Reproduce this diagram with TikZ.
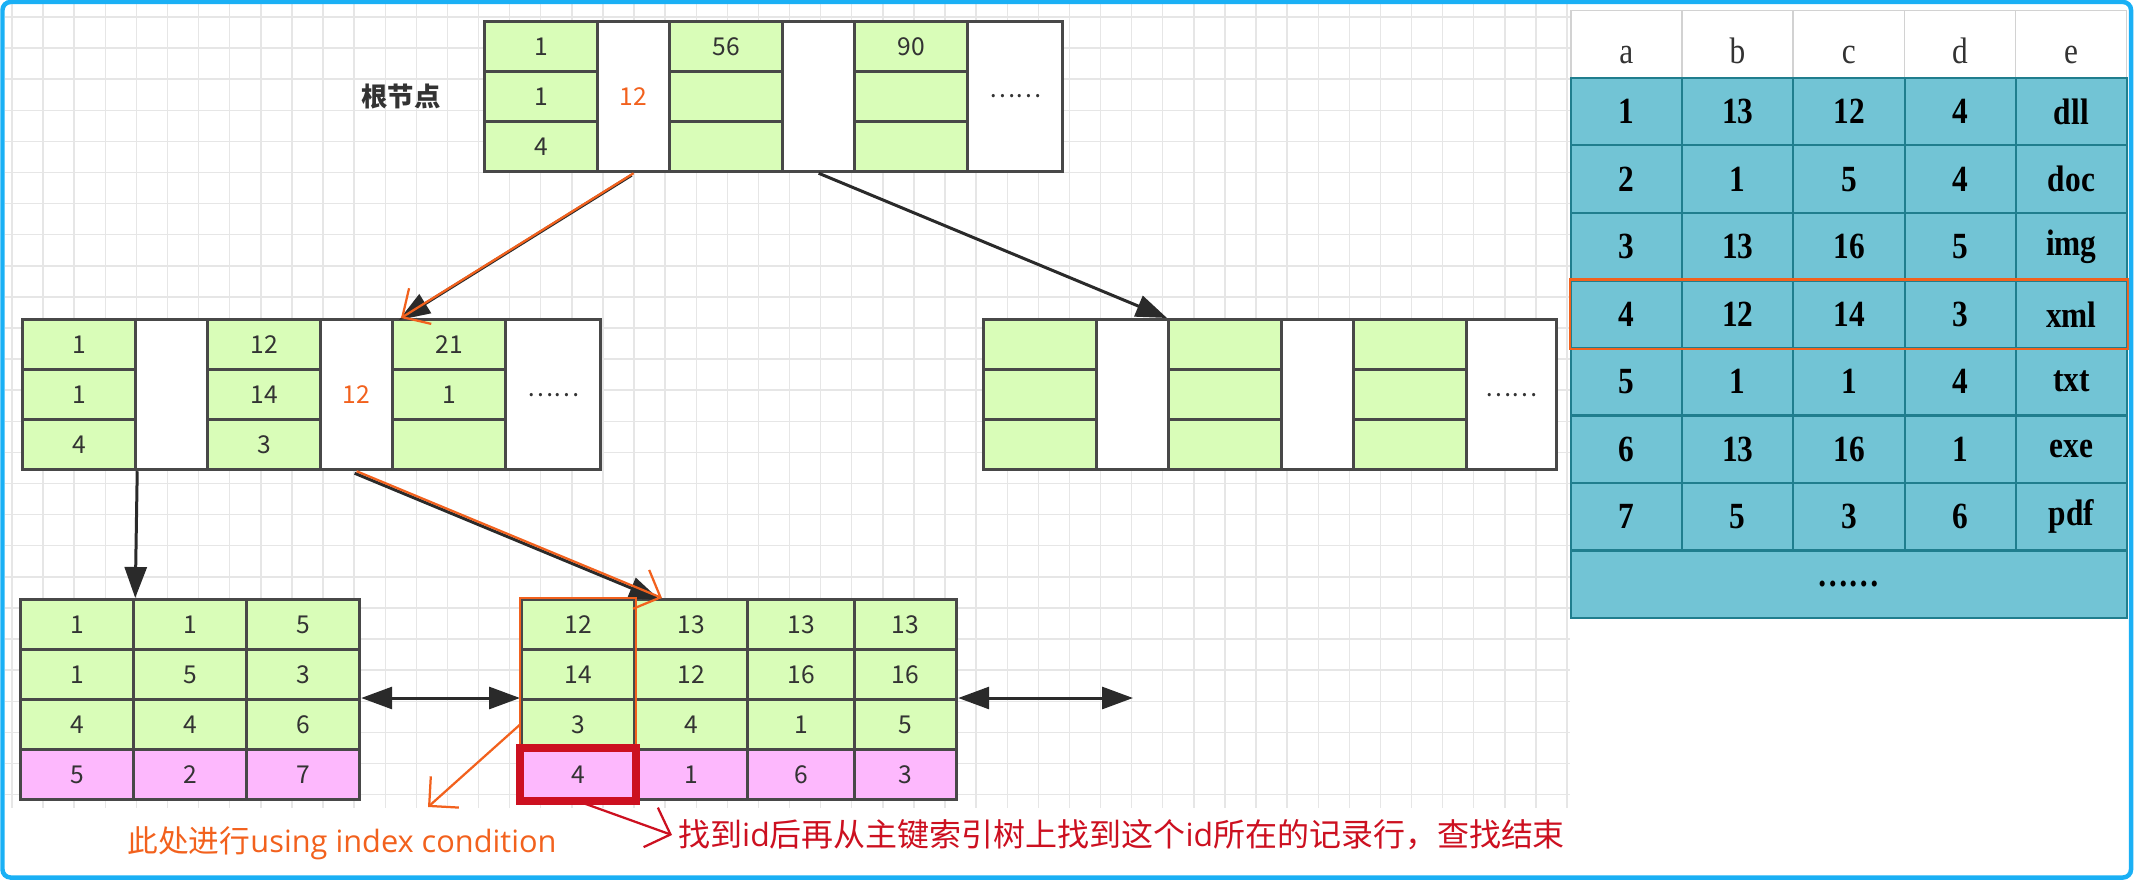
\documentclass[tikz,border=0pt]{standalone}
\usepackage{fontspec}
\setmainfont{Liberation Serif}
\newfontfamily\cjk{Noto Sans CJK SC}
\newfontfamily\latin{Open Sans}
\newfontfamily\tabfont{Liberation Serif}[FakeStretch=0.85]
\usetikzlibrary{arrows.meta}

\definecolor{leafgreen}{HTML}{D9FDB8}
\definecolor{leafpink}{HTML}{FDB8FD}
\definecolor{boxgray}{HTML}{484848}
\definecolor{numgray}{HTML}{333333}
\definecolor{gridgray}{HTML}{E6E6E6}
\definecolor{frameblue}{HTML}{1AB0F5}
\definecolor{tabteal}{HTML}{72C4D5}
\definecolor{tabline}{HTML}{207E8E}
\definecolor{headline}{HTML}{D2D2D2}
\definecolor{hintorange}{HTML}{F2611D}
\definecolor{foundred}{HTML}{CC1020}
\definecolor{arrowgray}{HTML}{2A2A2A}

\tikzset{
  key/.style={draw=boxgray, line width=0.065cm, fill=leafgreen, anchor=north west,
    minimum width=2.26cm, minimum height=1cm, inner sep=0pt, text=numgray,
    font=\cjk\fontsize{14}{16}\selectfont},
  rowid/.style={key, fill=leafpink},
  gap/.style={key, fill=white, minimum width=1.44cm, minimum height=3cm},
  tail/.style={gap, minimum width=1.9cm},
  tabhead/.style={draw=headline, line width=0.03cm, fill=white, anchor=north west,
    minimum width=2.224cm, minimum height=1.35cm, inner sep=0pt, text=numgray,
    font=\tabfont\fontsize{21}{24}\selectfont},
  tabcell/.style={tabhead, draw=tabline, line width=0.04cm, fill=tabteal, text=black,
    font=\tabfont\bfseries\fontsize{21}{24}\selectfont},
  link/.style={draw=arrowgray, line width=0.06cm, -{Triangle[length=0.62cm,width=0.44cm]}},
  twoway/.style={link, {Triangle[length=0.62cm,width=0.44cm]}-{Triangle[length=0.62cm,width=0.44cm]}},
  shadow/.style={link, transform canvas={shift={(-0.04cm,-0.04cm)}}},
  hintline/.style={draw=hintorange, line width=0.045cm, -{Straight Barb[length=0.42cm,width=0.84cm]}},
  foundline/.style={hintline, draw=foundred}
}

\begin{document}
\begin{tikzpicture}[x=0.02cm, y=-0.02cm]
\useasboundingbox (0,0) rectangle (2134,882);

% background grid
\foreach \gx in {12,43.1,...,1570} \draw[gridgray, line width=0.8pt] (\gx,3) -- (\gx,808);
\foreach \gy in {17,48.1,...,808} \draw[gridgray, line width=0.8pt] (5,\gy) -- (1570,\gy);

% root node
\node[font=\cjk\bfseries\fontsize{15}{18}\selectfont, text=numgray] (rootlabel) at (401,97) {根节点};
\node[key] (ra1) at (483,20) {1};
\node[key] (rb1) at (483,70) {1};
\node[key] (rc1) at (483,120) {4};
\node[gap, text=hintorange] (rg1) at (596,20) {12};
\node[key] (ra2) at (668,20) {56};
\node[key] (rb2) at (668,70) {};
\node[key] (rc2) at (668,120) {};
\node[gap] (rg2) at (781,20) {};
\node[key] (ra3) at (853,20) {90};
\node[key] (rb3) at (853,70) {};
\node[key] (rc3) at (853,120) {};
\node[tail] (rt) at (966,20) {……};

% left inner node
\node[key] (ma1) at (21,318) {1};
\node[key] (mb1) at (21,368) {1};
\node[key] (mc1) at (21,418) {4};
\node[gap] (mg1) at (134,318) {};
\node[key] (ma2) at (206,318) {12};
\node[key] (mb2) at (206,368) {14};
\node[key] (mc2) at (206,418) {3};
\node[gap, text=hintorange] (mg2) at (319,318) {12};
\node[key] (ma3) at (391,318) {21};
\node[key] (mb3) at (391,368) {1};
\node[key] (mc3) at (391,418) {};
\node[tail] (mt) at (504,318) {……};

% right inner node
\node[key] (qa1) at (982,318) {};
\node[key] (qb1) at (982,368) {};
\node[key] (qc1) at (982,418) {};
\node[gap] (qg1) at (1095,318) {};
\node[key] (qa2) at (1167,318) {};
\node[key] (qb2) at (1167,368) {};
\node[key] (qc2) at (1167,418) {};
\node[gap] (qg2) at (1280,318) {};
\node[key] (qa3) at (1352,318) {};
\node[key] (qb3) at (1352,368) {};
\node[key] (qc3) at (1352,418) {};
\node[tail, minimum width=1.8cm] (qt) at (1465,318) {……};

% leaves
\foreach \c/\x/\a/\b/\cc/\d in {1/19/1/1/4/5, 2/132/1/5/4/2, 3/245/5/3/6/7} {
  \node[key] (la\c) at (\x,598) {\a};
  \node[key] (lb\c) at (\x,648) {\b};
  \node[key] (lc\c) at (\x,698) {\cc};
  \node[rowid] (ld\c) at (\x,748) {\d};
}
\foreach \c/\x/\w/\a/\b/\cc/\d in {1/520/2.26/12/14/3/4, 2/633/2.26/13/12/4/1,
    3/746/2.14/13/16/1/6, 4/853/2.04/13/16/5/3} {
  \node[key, minimum width=\w cm] (na\c) at (\x,598) {\a};
  \node[key, minimum width=\w cm] (nb\c) at (\x,648) {\b};
  \node[key, minimum width=\w cm] (nc\c) at (\x,698) {\cc};
  \node[rowid, minimum width=\w cm] (nd\c) at (\x,748) {\d};
}
\coordinate (nextleaf) at (1133,698);
\coordinate (hinttip) at (428,807);

% table
\foreach \h [count=\ci] in {a,b,c,d,e}
  \node[tabhead, text height=0.75cm, text depth=0pt] (th\ci) at ({1570+(\ci-1)*111.2},10) {\h};
\foreach \ri/\va/\vb/\vc/\vd/\ve in {1/1/13/12/4/dll, 2/2/1/5/4/doc, 3/3/13/16/5/img,
    4/4/12/14/3/xml, 5/5/1/1/4/txt, 6/6/13/16/1/exe, 7/7/5/3/6/pdf} {
  \foreach \v [count=\ci] in {\va,\vb,\vc,\vd,\ve}
    \node[tabcell] (t\ri\ci) at ({1570+(\ci-1)*111.2},{77+(\ri-1)*67.5}) {\v};
}
\node[tabcell, minimum width=11.12cm] (tmore) at (1570,549.5) {……};
\draw[hintorange, line width=0.05cm] (t41.north west) rectangle (t45.south east);

% search path
\draw[shadow] (rg1.south) -- ([xshift=0.2cm]ma3.north west);
\draw[hintline] (rg1.south) -- ([xshift=0.2cm]ma3.north west);
\draw[link] (rg2.south) -- (qa2.north west);
\draw[link] (mc1.south east) -- (la1.north east);
\draw[shadow] (mg2.south) -- ([xshift=0.58cm]na2.north west);
\draw[hintline] (mg2.south) -- ([xshift=0.58cm]na2.north west);
\draw[twoway] (lc3.north east) -- (nc1.north west);
\draw[twoway] (nc4.north east) -- (nextleaf);

% marks on the leaf
\draw[hintorange, line width=0.05cm] (na1.north west) rectangle (nc1.south east);
\draw[foundred, line width=0.16cm] (nd1.north west) rectangle (nd1.south east);
\node[text=hintorange, font=\cjk\fontsize{17.5}{20}\selectfont] (hint) at (342,843)
  {此处进行{\latin using index condition}};
\node[anchor=west, text=foundred, font=\cjk\fontsize{18.2}{21}\selectfont] (found) at (672,835)
  {找到{\latin id}后再从主键索引树上找到这个{\latin id}所在的记录行，查找结束};
\draw[hintline] (nc1.west) -- (hinttip);
\draw[foundline] (nd1.south) -- (found.west);

% frame
\draw[frameblue, line width=0.09cm, rounded corners=0.16cm] (2.5,2) rectangle (2131,877.5);
\end{tikzpicture}
\end{document}
